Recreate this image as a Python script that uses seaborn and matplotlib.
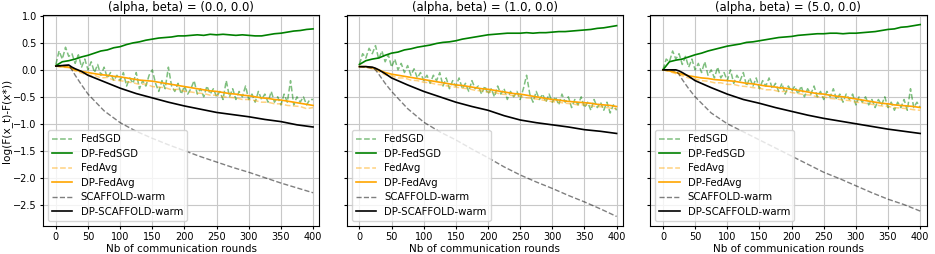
import matplotlib
matplotlib.use("Agg")
import matplotlib.pyplot as plt
import seaborn as sns

rounds_fine = list(range(0, 401, 5))
rounds_mid = list(range(0, 401, 10))
rounds_coarse = [0, 10, 20, 25, 30, 40, 50, 75, 100, 125, 150, 175, 200,
                 225, 250, 275, 300, 325, 350, 375, 400]

titles = ["(alpha, beta) = (0.0, 0.0)", "(alpha, beta) = (1.0, 0.0)", "(alpha, beta) = (5.0, 0.0)"]

# ---------------- panel 1: alpha = 0.0 ----------------
fedsgd_a0 = [0.1, 0.35, 0.2, 0.42, 0.25, 0.3, 0.12, 0.28, 0.05, 0.2,
             0.0, 0.15, -0.05, 0.1, -0.1, 0.05, -0.15, -0.05, -0.2, -0.1,
             -0.2, -0.05, -0.3, -0.15, -0.25, -0.05, -0.35, -0.2, -0.3, -0.1,
             0.0, -0.25, -0.4, -0.2, -0.35, 0.05, -0.3, -0.4, -0.25, -0.45,
             -0.3, -0.45, -0.35, -0.2, -0.45, -0.35, -0.5, -0.3, -0.45, -0.35,
             -0.5, -0.4, -0.55, -0.2, -0.5, -0.35, -0.55, -0.4, -0.5, -0.3,
             -0.55, -0.45, -0.6, -0.4, -0.55, -0.45, -0.6, -0.4, -0.6, -0.5,
             -0.65, -0.45, -0.6, -0.2, -0.65, -0.5, -0.6, -0.5, -0.65, -0.55,
             -0.55]
dp_fedsgd_a0 = [0.08, 0.15, 0.17, 0.2, 0.24, 0.27, 0.31, 0.35, 0.37, 0.41,
                0.43, 0.47, 0.5, 0.52, 0.55, 0.57, 0.59, 0.6, 0.61, 0.63,
                0.63, 0.64, 0.65, 0.64, 0.66, 0.65, 0.66, 0.65, 0.64, 0.65,
                0.64, 0.63, 0.63, 0.65, 0.67, 0.68, 0.7, 0.72, 0.73, 0.75,
                0.76]
fedavg_a0 = [0.07, 0.05, 0.04, -0.02, -0.06, -0.1, -0.1, -0.15, -0.14, -0.19,
             -0.2, -0.22, -0.24, -0.27, -0.26, -0.31, -0.32, -0.33, -0.37, -0.36,
             -0.4, -0.41, -0.43, -0.44, -0.47, -0.47, -0.5, -0.51, -0.52, -0.55,
             -0.55, -0.57, -0.6, -0.6, -0.63, -0.63, -0.66, -0.67, -0.68, -0.72,
             -0.7]
dp_fedavg_a0 = [0.07, 0.06, 0.05, 0.0, -0.03, -0.05, -0.07, -0.09, -0.1, -0.12,
                -0.13, -0.15, -0.17, -0.19, -0.2, -0.21, -0.23, -0.25, -0.27, -0.29,
                -0.31, -0.33, -0.35, -0.37, -0.39, -0.4, -0.42, -0.44, -0.45, -0.47,
                -0.48, -0.5, -0.52, -0.53, -0.55, -0.56, -0.58, -0.6, -0.62, -0.64,
                -0.66]
scaffold_a0 = [0.07, 0.08, 0.08, 0.0, -0.1, -0.28, -0.45, -0.76, -0.98, -1.14,
               -1.27, -1.39, -1.5, -1.61, -1.71, -1.81, -1.9, -2.0, -2.1, -2.19,
               -2.28]
dp_scaffold_a0 = [0.07, 0.08, 0.09, 0.05, 0.02, -0.03, -0.1, -0.22, -0.34, -0.44,
                  -0.52, -0.6, -0.67, -0.73, -0.79, -0.83, -0.87, -0.92, -0.96, -1.02,
                  -1.06]

# ---------------- panel 2: alpha = 1.0 ----------------
fedsgd_a1 = [0.1, 0.3, 0.22, 0.4, 0.3, 0.45, 0.2, 0.35, 0.15, 0.28,
             0.05, 0.2, 0.0, 0.12, -0.05, 0.08, -0.1, 0.02, -0.15, -0.05,
             -0.2, -0.1, -0.25, -0.1, -0.2, -0.05, -0.3, -0.15, -0.35, -0.2,
             -0.3, -0.15, -0.35, -0.25, -0.4, -0.2, -0.35, -0.3, -0.45, -0.3,
             -0.45, -0.35, -0.5, -0.3, -0.45, -0.35, -0.55, -0.4, -0.5, -0.4,
             -0.55, -0.35, -0.1, -0.45, -0.6, -0.4, -0.55, -0.45, -0.6, -0.45,
             -0.6, -0.5, -0.65, -0.45, -0.6, -0.5, -0.7, -0.55, -0.65, -0.5,
             -0.7, -0.6, -0.75, -0.55, -0.7, -0.6, -0.75, -0.6, -0.8, -0.65,
             -0.75]
dp_fedsgd_a1 = [0.1, 0.17, 0.2, 0.22, 0.27, 0.31, 0.33, 0.37, 0.39, 0.42,
                0.44, 0.46, 0.49, 0.51, 0.52, 0.54, 0.57, 0.59, 0.61, 0.63,
                0.65, 0.66, 0.67, 0.68, 0.68, 0.68, 0.69, 0.68, 0.69, 0.69,
                0.7, 0.71, 0.71, 0.72, 0.73, 0.74, 0.75, 0.77, 0.78, 0.8,
                0.82]
fedavg_a1 = [0.06, 0.05, 0.02, -0.03, -0.09, -0.11, -0.15, -0.15, -0.19, -0.2,
             -0.23, -0.24, -0.27, -0.28, -0.31, -0.32, -0.34, -0.35, -0.38, -0.39,
             -0.41, -0.42, -0.45, -0.46, -0.48, -0.49, -0.52, -0.53, -0.55, -0.57,
             -0.59, -0.6, -0.62, -0.63, -0.65, -0.65, -0.67, -0.68, -0.69, -0.71,
             -0.72]
dp_fedavg_a1 = [0.06, 0.06, 0.04, 0.0, -0.05, -0.08, -0.1, -0.12, -0.14, -0.16,
                -0.18, -0.2, -0.22, -0.24, -0.26, -0.28, -0.29, -0.31, -0.33, -0.35,
                -0.36, -0.38, -0.4, -0.42, -0.44, -0.45, -0.47, -0.49, -0.51, -0.53,
                -0.55, -0.56, -0.58, -0.59, -0.6, -0.61, -0.62, -0.64, -0.65, -0.66,
                -0.68]
scaffold_a1 = [0.06, 0.05, 0.03, 0.0, -0.08, -0.25, -0.4, -0.72, -0.97, -1.15,
               -1.3, -1.47, -1.63, -1.8, -1.95, -2.08, -2.2, -2.33, -2.45, -2.58,
               -2.72]
dp_scaffold_a1 = [0.06, 0.06, 0.05, 0.03, 0.0, -0.07, -0.15, -0.28, -0.4, -0.5,
                  -0.6, -0.68, -0.75, -0.85, -0.93, -0.98, -1.02, -1.06, -1.11, -1.14,
                  -1.18]

# ---------------- panel 3: alpha = 5.0 ----------------
fedsgd_a5 = [0.0, 0.2, 0.15, 0.35, 0.2, 0.3, 0.1, 0.25, 0.05, 0.2,
             0.0, 0.12, -0.05, 0.15, -0.1, 0.0, -0.15, 0.05, -0.15, -0.05,
             -0.2, 0.0, -0.25, -0.1, -0.2, -0.05, -0.3, -0.15, -0.3, -0.15,
             -0.35, -0.2, -0.3, -0.15, -0.35, -0.25, -0.4, -0.25, -0.45, -0.3,
             -0.4, -0.3, -0.45, -0.3, -0.5, -0.35, -0.45, -0.3, -0.5, -0.4,
             -0.55, -0.4, -0.5, -0.35, -0.55, -0.45, -0.6, -0.45, -0.55, -0.45,
             -0.65, -0.5, -0.6, -0.5, -0.65, -0.55, -0.7, -0.55, -0.65, -0.5,
             -0.7, -0.6, -0.75, -0.6, -0.7, -0.55, -0.75, -0.35, -0.7, -0.6,
             -0.7]
dp_fedsgd_a5 = [0.0, 0.15, 0.18, 0.2, 0.24, 0.28, 0.31, 0.35, 0.38, 0.41,
                0.44, 0.46, 0.48, 0.51, 0.52, 0.54, 0.56, 0.58, 0.6, 0.61,
                0.62, 0.64, 0.65, 0.66, 0.67, 0.67, 0.68, 0.68, 0.67, 0.68,
                0.68, 0.69, 0.7, 0.71, 0.73, 0.75, 0.76, 0.79, 0.8, 0.82,
                0.84]
fedavg_a5 = [0.0, -0.03, -0.07, -0.11, -0.15, -0.17, -0.2, -0.21, -0.24, -0.24,
             -0.27, -0.27, -0.3, -0.31, -0.33, -0.34, -0.37, -0.37, -0.4, -0.4,
             -0.42, -0.44, -0.46, -0.47, -0.5, -0.5, -0.53, -0.54, -0.56, -0.57,
             -0.6, -0.61, -0.63, -0.65, -0.67, -0.68, -0.7, -0.71, -0.72, -0.74,
             -0.75]
dp_fedavg_a5 = [0.0, -0.02, -0.05, -0.08, -0.11, -0.13, -0.15, -0.16, -0.18, -0.19,
                -0.2, -0.21, -0.23, -0.25, -0.26, -0.28, -0.3, -0.31, -0.33, -0.34,
                -0.36, -0.38, -0.4, -0.42, -0.44, -0.45, -0.47, -0.49, -0.5, -0.52,
                -0.54, -0.56, -0.58, -0.6, -0.62, -0.63, -0.65, -0.66, -0.67, -0.68,
                -0.7]
scaffold_a5 = [0.0, 0.0, -0.02, -0.08, -0.18, -0.35, -0.5, -0.8, -1.0, -1.15,
               -1.3, -1.45, -1.6, -1.75, -1.9, -2.02, -2.15, -2.28, -2.4, -2.5,
               -2.62]
dp_scaffold_a5 = [0.0, 0.0, 0.0, -0.02, -0.05, -0.12, -0.2, -0.33, -0.45, -0.55,
                  -0.62, -0.7, -0.77, -0.84, -0.9, -0.95, -1.0, -1.05, -1.1, -1.14,
                  -1.18]

panels = [
    (fedsgd_a0, dp_fedsgd_a0, fedavg_a0, dp_fedavg_a0, scaffold_a0, dp_scaffold_a0),
    (fedsgd_a1, dp_fedsgd_a1, fedavg_a1, dp_fedavg_a1, scaffold_a1, dp_scaffold_a1),
    (fedsgd_a5, dp_fedsgd_a5, fedavg_a5, dp_fedavg_a5, scaffold_a5, dp_scaffold_a5),
]

fig, axes = plt.subplots(1, 3, figsize=(9.35, 2.54), dpi=100, sharey=True)
fig.subplots_adjust(left=0.046, right=0.991, bottom=0.11, top=0.941, wspace=0.098)

for ax, title, (fsgd, dpfsgd, favg, dpfavg, scaf, dpscaf) in zip(axes, titles, panels):
    sns.lineplot(x=rounds_fine, y=fsgd, ax=ax, color="green", alpha=0.5,
                 linestyle="--", linewidth=1.1, label="FedSGD")
    sns.lineplot(x=rounds_mid, y=dpfsgd, ax=ax, color="green",
                 linewidth=1.2, label="DP-FedSGD")
    sns.lineplot(x=rounds_mid, y=favg, ax=ax, color="orange", alpha=0.5,
                 linestyle="--", linewidth=1.1, label="FedAvg")
    sns.lineplot(x=rounds_mid, y=dpfavg, ax=ax, color="orange",
                 linewidth=1.2, label="DP-FedAvg")
    sns.lineplot(x=rounds_coarse, y=scaf, ax=ax, color="black", alpha=0.5,
                 linestyle="--", linewidth=1.0, label="SCAFFOLD-warm")
    sns.lineplot(x=rounds_coarse, y=dpscaf, ax=ax, color="black",
                 linewidth=1.2, label="DP-SCAFFOLD-warm")

    ax.set_xlim(-20, 410)
    ax.set_xticks(range(0, 401, 50))
    ax.set_yticks([-2.5, -2.0, -1.5, -1.0, -0.5, 0.0, 0.5, 1.0])
    ax.grid(True, color="#c8c8c8", linewidth=0.8)
    ax.tick_params(labelsize=7, length=2.5, pad=2)
    ax.set_title(title, fontsize=8.4, pad=3)
    ax.set_xlabel("Nb of communication rounds", fontsize=7.5, labelpad=1)
    ax.set_ylabel("log(F(x_t)-F(x*))", fontsize=7.6, labelpad=1)
    ax.tick_params(axis="y", labelleft=(ax is axes[0]))
    ax.legend(loc="lower left", fontsize=7.3, handlelength=2.0, labelspacing=0.45)

plt.savefig("out.png", dpi=100)
